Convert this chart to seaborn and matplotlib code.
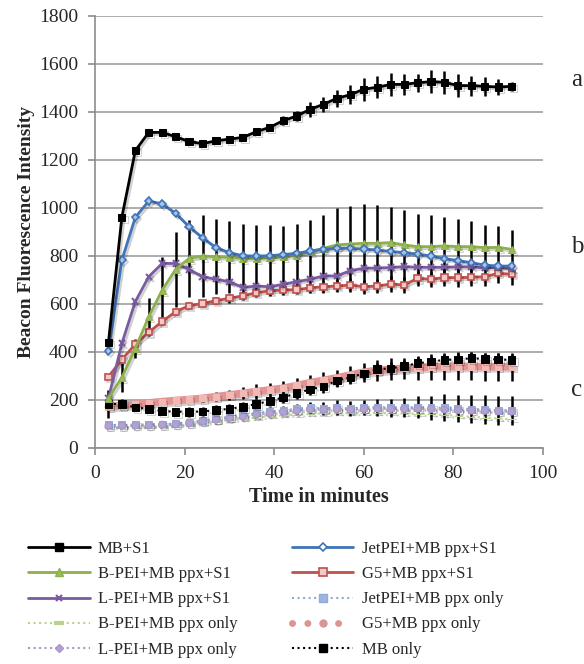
import matplotlib
matplotlib.use("Agg")
import matplotlib.pyplot as plt
import matplotlib.patheffects as pe
from matplotlib.lines import Line2D
import seaborn as sns

# time points (minutes)
minutes = list(range(3, 94, 3))

# series values
mb_s1 = [440, 962, 1239, 1315, 1315, 1297, 1277, 1268, 1280, 1287, 1294, 1318, 1336, 1364, 1383, 1411,
         1432, 1457, 1472, 1495, 1503, 1515, 1515, 1522, 1526, 1524, 1510, 1510, 1507, 1504, 1507]
mb_s1_err = [5, 8, 10, 10, 10, 10, 10, 10, 10, 12, 12, 15, 15, 18, 20, 30,
             30, 35, 40, 48, 45, 48, 45, 38, 48, 48, 48, 42, 40, 35, 20]
jetpei_s1 = [404, 783, 961, 1029, 1017, 978, 922, 876, 835, 814, 801, 800, 801, 806, 811, 821,
             828, 832, 832, 829, 825, 819, 814, 808, 800, 789, 781, 772, 762, 758, 758]
bpei_s1 = [207, 294, 415, 547, 658, 744, 790, 800, 797, 794, 790, 790, 793, 797, 804, 818,
           832, 846, 850, 853, 853, 856, 846, 839, 839, 842, 839, 839, 835, 836, 828]
bpei_s1_err = [10, 60, 40, 80, 138, 157, 162, 170, 157, 150, 145, 140, 135, 130, 128, 130,
               140, 155, 160, 165, 160, 150, 145, 135, 130, 120, 115, 105, 95, 90, 80]
g5_s1 = [297, 369, 432, 482, 527, 568, 593, 602, 614, 624, 634, 647, 655, 658, 660, 667,
         672, 675, 679, 672, 675, 683, 679, 707, 703, 710, 710, 711, 714, 728, 724]
g5_s1_err = [8, 10, 12, 12, 15, 15, 15, 15, 15, 18, 18, 18, 20, 20, 20, 22,
             25, 25, 28, 30, 30, 35, 35, 32, 32, 35, 38, 38, 40, 40, 45]
lpei_s1 = [207, 436, 610, 714, 769, 769, 744, 714, 703, 693, 669, 675, 672, 682, 693, 703,
           717, 717, 739, 749, 750, 752, 756, 753, 753, 753, 755, 755, 750, 753, 746]
jetpei_only = [96, 96, 97, 98, 100, 102, 108, 116, 123, 130, 138, 146, 152, 157, 163, 168,
               165, 168, 165, 168, 170, 168, 168, 170, 168, 168, 165, 162, 160, 157, 157]
jetpei_only_err = [10, 10, 10, 10, 10, 10, 12, 12, 15, 15, 15, 15, 18, 20, 22, 25,
                   28, 30, 30, 32, 35, 38, 40, 45, 50, 55, 55, 58, 60, 60, 60]
bpei_only = [88, 89, 90, 91, 93, 95, 99, 104, 110, 116, 121, 127, 132, 136, 139, 142,
             144, 145, 145, 146, 146, 145, 144, 143, 141, 138, 134, 130, 127, 123, 119]
g5_only = [172, 177, 182, 188, 193, 198, 202, 207, 214, 221, 228, 235, 242, 249, 260, 272,
           282, 292, 304, 316, 323, 328, 332, 335, 338, 340, 340, 340, 339, 339, 339]
g5_only_err = [10, 10, 10, 10, 12, 12, 15, 15, 18, 20, 25, 30, 30, 30, 32, 32,
               35, 35, 38, 40, 42, 45, 45, 50, 55, 55, 58, 58, 58, 58, 58]
lpei_only = [92, 93, 94, 95, 97, 99, 104, 111, 118, 125, 132, 140, 146, 151, 156, 160,
             160, 162, 160, 163, 165, 163, 163, 165, 162, 160, 158, 156, 155, 153, 152]
mb_only = [183, 183, 169, 163, 154, 151, 151, 152, 158, 163, 172, 183, 196, 211, 228, 244,
           256, 281, 294, 311, 328, 332, 342, 353, 360, 367, 369, 374, 371, 369, 367]
mb_only_err = [60, 20, 15, 15, 15, 15, 20, 20, 20, 20, 20, 20, 20, 22, 25, 25,
               25, 25, 25, 25, 25, 25, 25, 25, 25, 25, 25, 25, 25, 25, 25]

group_labels = ["a", "b", "c"]
group_levels = [80, 247, 390]  # pixel rows of the a/b/c labels

sns.set_style("white")
plt.rcParams["font.family"] = ["Liberation Serif", "DejaVu Serif"]

fig = plt.figure(figsize=(5.84, 6.64), dpi=100)
ax = fig.add_axes([95 / 584, 216 / 664, 448 / 584, 432 / 664])

shadow = [pe.SimpleLineShadow(offset=(1.5, -1.5), alpha=0.18), pe.Normal()]

# error bars (black, no caps)
for y, e in [(mb_s1, mb_s1_err), (bpei_s1, bpei_s1_err), (g5_s1, g5_s1_err),
             (mb_only, mb_only_err), (g5_only, g5_only_err), (jetpei_only, jetpei_only_err)]:
    ax.errorbar(minutes, y, yerr=e, fmt="none", ecolor="black", elinewidth=1.8,
                capsize=0, zorder=2)

# "only" series (dotted)
sns.lineplot(x=minutes, y=g5_only, ax=ax, color="#E09593", linewidth=5.5, marker="s",
             markersize=4.5, markerfacecolor="#F2B8B6", markeredgecolor="#F2B8B6", zorder=3)
sns.lineplot(x=minutes, y=bpei_only, ax=ax, color="#B9D38B", linewidth=1.5, linestyle=":",
             marker="_", markersize=6, markeredgecolor="#B9D38B", zorder=3)
sns.lineplot(x=minutes, y=jetpei_only, ax=ax, color="#8FAADC", linewidth=1.5, linestyle=":",
             marker="s", markersize=5, markerfacecolor="#9DB6E0", markeredgecolor="#8FAADC", zorder=3)
sns.lineplot(x=minutes, y=lpei_only, ax=ax, color="#A896C8", linewidth=1.5, linestyle=":",
             marker="o", markersize=5, markerfacecolor="#B3A2D0", markeredgecolor="#A896C8", zorder=3)
sns.lineplot(x=minutes, y=mb_only, ax=ax, color="black", linewidth=1.5, linestyle=":",
             marker="s", markersize=5.5, markerfacecolor="black", markeredgecolor="black", zorder=4)

# "+S1" series (solid)
sns.lineplot(x=minutes, y=g5_s1, ax=ax, color="#C0504D", linewidth=2, marker="s",
             markersize=4.5, markerfacecolor="#F3C9C7", markeredgecolor="#C0504D",
             markeredgewidth=1.2, zorder=5)
sns.lineplot(x=minutes, y=lpei_s1, ax=ax, color="#7A5BA0", linewidth=2, marker="x",
             markersize=4.5, markeredgecolor="#7A5BA0", markeredgewidth=1.5, zorder=5)
sns.lineplot(x=minutes, y=bpei_s1, ax=ax, color="#8DB04A", linewidth=2, marker="^",
             markersize=5, markerfacecolor="#9BBB59", markeredgecolor="#8DB04A", zorder=5)
sns.lineplot(x=minutes, y=jetpei_s1, ax=ax, color="#3F74B8", linewidth=2, marker="D",
             markersize=3.8, markerfacecolor="#A9C4E8", markeredgecolor="#3F74B8",
             markeredgewidth=1.2, zorder=6)
sns.lineplot(x=minutes, y=mb_s1, ax=ax, color="black", linewidth=2, marker="s",
             markersize=5.2, markerfacecolor="black", markeredgecolor="black", zorder=6)

for ln in ax.lines:
    ln.set_path_effects(shadow)

ax.set_xlim(0, 100)
ax.set_ylim(0, 1800)
ax.set_xticks(range(0, 101, 20))
ax.set_yticks(range(0, 1801, 200))
ax.yaxis.grid(True, color="#A0A0A0", linewidth=1.2)
ax.set_axisbelow(True)
for s in ["top", "right"]:
    ax.spines[s].set_visible(False)
for s in ["left", "bottom"]:
    ax.spines[s].set_color("#8C8C8C")
    ax.spines[s].set_linewidth(1.2)
ax.tick_params(axis="both", direction="out", length=5, width=1.2, color="#8C8C8C",
               labelsize=14, pad=7, left=True, bottom=True)
ax.set_xlabel("Time in minutes", fontsize=14.5, fontweight="bold", labelpad=4)
ax.set_ylabel("Beacon Fluorescence Intensity", fontsize=14, fontweight="bold", labelpad=3)

for lab, py in zip(group_labels, group_levels):
    fig.text(577 / 584, 1 - py / 664, lab, fontsize=18, ha="center", va="center")

# legend, column-first order
def h(**kw):
    return Line2D([], [], **kw)

handles = [
    h(color="black", lw=2, marker="s", ms=5.5, mfc="black", mec="black"),
    h(color="#8DB04A", lw=2, marker="^", ms=5.5, mfc="#9BBB59", mec="#8DB04A"),
    h(color="#7A5BA0", lw=2, marker="x", ms=4.5, mec="#7A5BA0", mew=1.5),
    h(color="#B9D38B", lw=1.5, ls=":", marker="_", ms=7, mec="#B9D38B", mew=3),
    h(color="#A896C8", lw=1.5, ls=":", marker="D", ms=4.5, mfc="#B3A2D0", mec="#A896C8"),
    h(color="#3F74B8", lw=2, marker="D", ms=4, mfc="white", mec="#3F74B8", mew=1.2),
    h(color="#C0504D", lw=2, marker="s", ms=5.5, mfc="#F3C9C7", mec="#C0504D", mew=1.2),
    h(color="#8FAADC", lw=1.5, ls=":", marker="s", ms=5.5, mfc="#9DB6E0", mec="#8FAADC"),
    h(color="#D99694", lw=5, ls=(0, (0.01, 2.2)), dash_capstyle="round", marker="o", ms=5,
      mfc="#D99694", mec="#D99694"),
    h(color="black", lw=1.5, ls=":", marker="s", ms=5.5, mfc="black", mec="black"),
]
labels = ["MB+S1", "B-PEI+MB ppx+S1", "L-PEI+MB ppx+S1", "B-PEI+MB ppx only",
          "L-PEI+MB ppx only", "JetPEI+MB ppx+S1", "G5+MB ppx+S1", "JetPEI+MB ppx only",
          "G5+MB ppx only", "MB only"]
fig.legend(handles, labels, ncol=2, loc="upper left", bbox_to_anchor=(28 / 584, 1 - 541 / 664),
           frameon=False, fontsize=12, numpoints=1, handlelength=3.7, handletextpad=0.5,
           columnspacing=3.25, labelspacing=0.55, borderpad=0, borderaxespad=0)

fig.savefig("out.png", dpi=100)
